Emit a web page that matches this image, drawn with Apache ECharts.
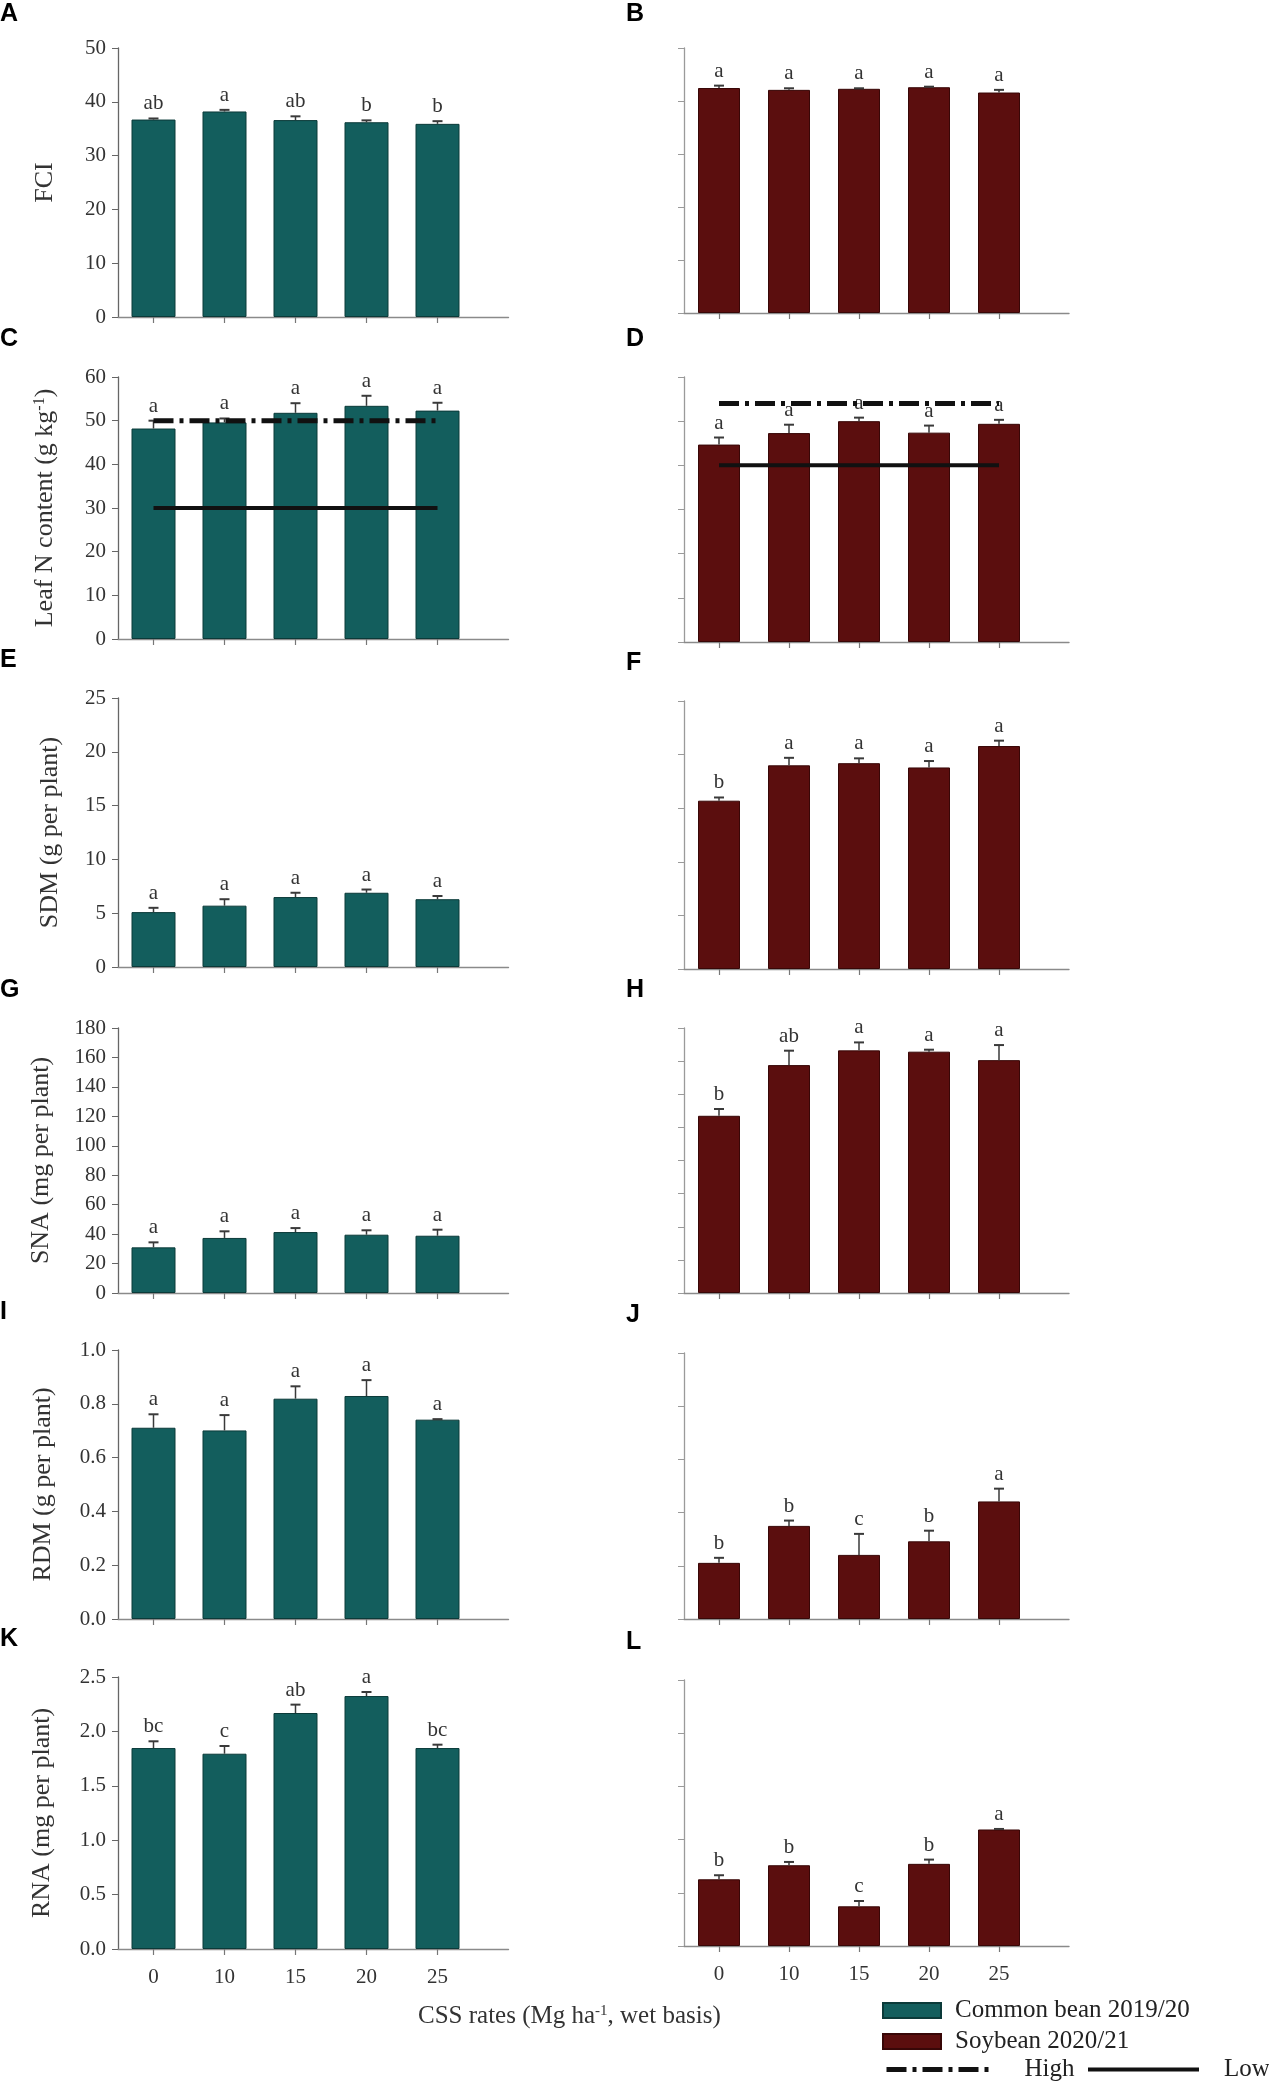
<!DOCTYPE html>
<html lang="en">
<head>
  <meta charset="UTF-8">
  <title>CSS rates - common bean and soybean</title>
  <script src="https://cdn.jsdelivr.net/npm/echarts@6.0.0/dist/echarts.min.js"></script>
  <style>
    body { margin: 0; background: #fff; }
  </style>
</head>
<body>
<div id="chart" style="width:1269px;height:2082px;"></div>
<script type="text/javascript">
  // CSS rates (x categories)
  var rates = ['0', '10', '15', '20', '25'];

  // A / B  FCI
  var fciBean = [36.7, 38.2, 36.6, 36.2, 35.9];
  var fciBeanSe = [0.2, 0.3, 0.7, 0.35, 0.5];
  var fciBeanSig = ['ab', 'a', 'ab', 'b', 'b'];
  var fciSoy = [42.45, 42.1, 42.3, 42.6, 41.6];
  var fciSoySe = [0.45, 0.3, 0.1, 0.1, 0.5];
  var fciSoySig = ['a', 'a', 'a', 'a', 'a'];

  // C / D  leaf N content, with sufficiency range (high, low)
  var leafNBean = [48.2, 49.6, 51.8, 53.4, 52.3];
  var leafNBeanSe = [1.8, 0.9, 2.2, 2.3, 1.8];
  var leafNBeanSig = ['a', 'a', 'a', 'a', 'a'];
  var leafNSoy = [44.7, 47.3, 50.0, 47.4, 49.4];
  var leafNSoySe = [1.6, 1.9, 0.8, 1.6, 0.9];
  var leafNSoySig = ['a', 'a', 'a', 'a', 'a'];
  var leafNRangeBean = [50, 30];
  var leafNRangeSoy = [54, 40];

  // E / F  SDM
  var sdmBean = [5.1, 5.7, 6.5, 6.9, 6.3];
  var sdmBeanSe = [0.4, 0.6, 0.4, 0.3, 0.3];
  var sdmBeanSig = ['a', 'a', 'a', 'a', 'a'];
  var sdmSoy = [15.7, 19.0, 19.2, 18.8, 20.8];
  var sdmSoySe = [0.3, 0.7, 0.45, 0.6, 0.5];
  var sdmSoySig = ['b', 'a', 'a', 'a', 'a'];

  // G / H  SNA
  var snaBean = [31.0, 37.4, 41.4, 39.6, 38.9];
  var snaBeanSe = [3.4, 4.5, 2.7, 3.0, 4.1];
  var snaBeanSig = ['a', 'a', 'a', 'a', 'a'];
  var snaSoy = [107.0, 137.6, 146.5, 145.7, 140.6];
  var snaSoySe = [4.1, 8.7, 4.8, 1.2, 9.1];
  var snaSoySig = ['b', 'ab', 'a', 'a', 'a'];

  // I / J  RDM
  var rdmBean = [0.711, 0.701, 0.819, 0.829, 0.741];
  var rdmBeanSe = [0.05, 0.057, 0.046, 0.059, 0.002];
  var rdmBeanSig = ['a', 'a', 'a', 'a', 'a'];
  var rdmSoy = [0.211, 0.350, 0.241, 0.292, 0.442];
  var rdmSoySe = [0.019, 0.02, 0.079, 0.04, 0.048];
  var rdmSoySig = ['b', 'b', 'c', 'b', 'a'];

  // K / L  RNA
  var rnaBean = [1.847, 1.795, 2.169, 2.325, 1.847];
  var rnaBeanSe = [0.062, 0.071, 0.077, 0.037, 0.031];
  var rnaBeanSig = ['bc', 'c', 'ab', 'a', 'bc'];
  var rnaSoy = [0.627, 0.759, 0.373, 0.772, 1.095];
  var rnaSoySe = [0.038, 0.031, 0.05, 0.04, 0.005];
  var rnaSoySig = ['b', 'b', 'c', 'b', 'a'];

  // y tick values
  var fciTicks = [0, 10, 20, 30, 40, 50];
  var leafNTicks = [0, 10, 20, 30, 40, 50, 60];
  var sdmTicks = [0, 5, 10, 15, 20, 25];
  var snaTicks = [0, 20, 40, 60, 80, 100, 120, 140, 160, 180];
  var snaSoyTicks = [0, 20, 40, 60, 80, 100, 120, 140, 160];
  var rdmTicks = [0, 0.2, 0.4, 0.6, 0.8, 1.0];
  var rnaTicks = [0, 0.5, 1.0, 1.5, 2.0, 2.5];

  var beanName = 'Common bean 2019/20';
  var soyName = 'Soybean 2020/21';
  var serif = 'Liberation Serif';
  var highDash = [20, 6, 4, 6];

  // one entry per panel, in reading order A..L
  var panels = [
    {letter: 'A', name: 'FCI', means: fciBean, se: fciBeanSe, sig: fciBeanSig, ticks: fciTicks, top: 48, h: 269, gap: 60},
    {letter: 'B', means: fciSoy, se: fciSoySe, sig: fciSoySig, ticks: fciTicks, top: 48, h: 265},
    {letter: 'C', name: '{n|Leaf N content (g kg}{s|-1}{n|)}', means: leafNBean, se: leafNBeanSe, sig: leafNBeanSig, ticks: leafNTicks, top: 377, h: 262, gap: 60, range: leafNRangeBean},
    {letter: 'D', means: leafNSoy, se: leafNSoySe, sig: leafNSoySig, ticks: leafNTicks, top: 377, h: 265, range: leafNRangeSoy},
    {letter: 'E', name: 'SDM (g per plant)', means: sdmBean, se: sdmBeanSe, sig: sdmBeanSig, ticks: sdmTicks, top: 698, h: 269, gap: 55},
    {letter: 'F', means: sdmSoy, se: sdmSoySe, sig: sdmSoySig, ticks: sdmTicks, top: 701, h: 268},
    {letter: 'G', name: 'SNA (mg per plant)', means: snaBean, se: snaBeanSe, sig: snaBeanSig, ticks: snaTicks, top: 1028, h: 265, gap: 64},
    {letter: 'H', means: snaSoy, se: snaSoySe, sig: snaSoySig, ticks: snaSoyTicks, top: 1028, h: 265},
    {letter: 'I', name: 'RDM (g per plant)', means: rdmBean, se: rdmBeanSe, sig: rdmBeanSig, ticks: rdmTicks, top: 1350, h: 269, gap: 62},
    {letter: 'J', means: rdmSoy, se: rdmSoySe, sig: rdmSoySig, ticks: rdmTicks, top: 1353, h: 266},
    {letter: 'K', name: 'RNA (mg per plant)', means: rnaBean, se: rnaBeanSe, sig: rnaBeanSig, ticks: rnaTicks, top: 1677, h: 272, gap: 63},
    {letter: 'L', means: rnaSoy, se: rnaSoySe, sig: rnaSoySig, ticks: rnaTicks, top: 1680, h: 266}
  ];

  var colors = {
    bean: '#135e5d', beanBorder: '#0b3a39',
    soy: '#5b0e0e', soyBorder: '#380707'
  };

  // error bar + significance letter
  function errorRenderer(sig) {
    return function (params, api) {
      var base = api.coord([api.value(0), api.value(1)]);
      var top = api.coord([api.value(0), api.value(2)]);
      return {
        type: 'group',
        children: [
          {type: 'line', shape: {x1: base[0], y1: base[1], x2: top[0], y2: top[1]},
            style: {stroke: '#3a3a3a', lineWidth: 1.5}},
          {type: 'line', shape: {x1: top[0] - 5, y1: top[1], x2: top[0] + 5, y2: top[1]},
            style: {stroke: '#3a3a3a', lineWidth: 2}},
          {type: 'text', x: top[0], y: top[1] - 4,
            style: {text: sig[params.dataIndex], align: 'center', verticalAlign: 'bottom',
              fontFamily: serif, fontSize: 21, fill: '#333'}}
        ]
      };
    };
  }

  var grids = [], xAxes = [], yAxes = [], series = [], graphics = [];

  panels.forEach(function (p, i) {
    var right = i % 2 === 1;
    var lastRow = i >= 10;
    var step = p.ticks[1] - p.ticks[0];
    var decimals = step < 1 ? 1 : 0;

    grids.push({left: right ? 684 : 118, width: right ? 385 : 390.5, top: p.top, height: p.h});

    xAxes.push({
      gridIndex: i, type: 'value', min: -0.5, max: 5,
      axisLine: {show: true, onZero: false, lineStyle: {color: '#8a8a8a', width: 1.4}},
      axisTick: {show: true, customValues: [0, 1, 2, 3, 4], length: 6, lineStyle: {color: '#777', width: 1.2}},
      axisLabel: {show: lastRow, customValues: [0, 1, 2, 3, 4], margin: 18,
        formatter: function (v) { return rates[Math.round(v)]; },
        fontFamily: serif, fontSize: 21, color: '#333'},
      splitLine: {show: false}
    });

    yAxes.push({
      gridIndex: i, type: 'value', min: 0, max: p.ticks[p.ticks.length - 1], interval: step,
      axisLine: {show: true, onZero: false, lineStyle: {color: right ? '#9a9a9a' : '#666', width: 1.3}},
      axisTick: {show: true, length: 6, lineStyle: {color: right ? '#9a9a9a' : '#666'}},
      axisLabel: {show: !right, margin: 12, fontFamily: serif, fontSize: 21, color: '#333',
        formatter: function (v) { return v.toFixed(decimals); }},
      splitLine: {show: false},
      name: right ? '' : p.name,
      nameLocation: 'middle',
      nameGap: p.gap || 60,
      nameTextStyle: {fontFamily: serif, fontSize: 26, color: '#333',
        rich: {n: {fontFamily: serif, fontSize: 26, color: '#333'},
          s: {fontFamily: serif, fontSize: 16, color: '#333', verticalAlign: 'top'}}}
    });

    series.push({
      type: 'bar', name: right ? soyName : beanName,
      xAxisIndex: i, yAxisIndex: i,
      barWidth: right ? 42 : 44,
      data: p.means.map(function (v, k) { return [k, v]; }),
      itemStyle: {
        color: right ? colors.soy : colors.bean,
        borderColor: right ? colors.soyBorder : colors.beanBorder,
        borderWidth: 1
      },
      z: 2
    });

    series.push({
      type: 'custom', xAxisIndex: i, yAxisIndex: i, silent: true, z: 3,
      data: p.means.map(function (v, k) { return [k, v, v + p.se[k]]; }),
      renderItem: errorRenderer(p.sig)
    });

    if (p.range) {
      series.push({
        type: 'line', name: 'High', xAxisIndex: i, yAxisIndex: i, symbol: 'none', z: 5, silent: true,
        color: '#111', itemStyle: {color: '#111', opacity: 0},
        data: rates.map(function (r, k) { return [k, p.range[0]]; }),
        lineStyle: {color: '#111', width: 5, type: highDash}
      });
      series.push({
        type: 'line', name: 'Low', xAxisIndex: i, yAxisIndex: i, symbol: 'none', z: 5, silent: true,
        color: '#111', itemStyle: {color: '#111', opacity: 0},
        data: rates.map(function (r, k) { return [k, p.range[1]]; }),
        lineStyle: {color: '#111', width: 4}
      });
    }

    // panel letter
    graphics.push({
      type: 'text', left: right ? 626 : 0, top: p.top - (i < 2 ? 46 : 50),
      style: {text: p.letter, font: 'bold 25px "Liberation Sans"', fill: '#000'}
    });
  });

  // x axis title
  graphics.push({
    type: 'text', left: 418, top: 2004,
    style: {
      text: '{n|CSS rates (Mg ha}{s|-1}{n|, wet basis)}',
      rich: {
        n: {fontFamily: serif, fontSize: 25, fill: '#333'},
        s: {fontFamily: serif, fontSize: 15, fill: '#333', verticalAlign: 'top'}
      }
    }
  });

  var legendText = {fontFamily: serif, fontSize: 25, color: '#222'};

  var myChart = echarts.init(document.getElementById('chart'));
  myChart.setOption({
    animation: false,
    backgroundColor: '#fff',
    grid: grids,
    xAxis: xAxes,
    yAxis: yAxes,
    legend: [
      {data: [beanName, soyName], orient: 'vertical', left: 877, top: 1993,
        icon: 'rect', itemWidth: 58, itemHeight: 15, itemGap: 6, selectedMode: false,
        textStyle: Object.assign({padding: [0, 0, 0, 9]}, legendText)},
      {data: ['High'], left: 879, top: 2052, itemWidth: 102, itemHeight: 14, selectedMode: false,
        itemStyle: {opacity: 0},
        lineStyle: {color: '#111', width: 5, type: highDash},
        textStyle: Object.assign({padding: [0, 0, 0, 31]}, legendText)},
      {data: ['Low'], left: 1081, top: 2052, itemWidth: 111, itemHeight: 14, selectedMode: false,
        itemStyle: {opacity: 0},
        lineStyle: {color: '#111', width: 4, type: 'solid'},
        textStyle: Object.assign({padding: [0, 0, 0, 20]}, legendText)}
    ],
    graphic: graphics,
    series: series
  });
</script>
</body>
</html>
